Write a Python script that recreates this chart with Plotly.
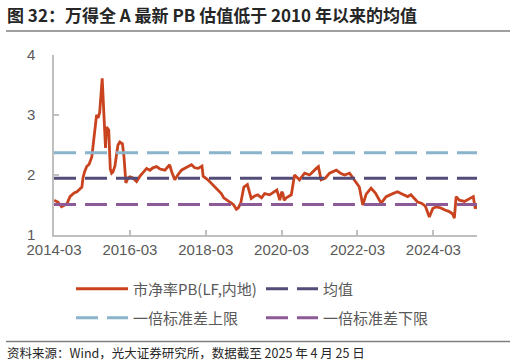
import plotly.graph_objects as go

dates = [
    "2014-03-03", "2014-03-20", "2014-04-08", "2014-05-13", "2014-06-05", "2014-07-04",
    "2014-08-02", "2014-09-10", "2014-10-08", "2014-11-07", "2014-11-25", "2014-12-05",
    "2014-12-20", "2015-01-10", "2015-02-02", "2015-02-28", "2015-03-20", "2015-04-15",
    "2015-04-30", "2015-05-15", "2015-06-08", "2015-06-20", "2015-07-04", "2015-07-10",
    "2015-07-20", "2015-08-10", "2015-08-25", "2015-09-07", "2015-09-20", "2015-10-09",
    "2015-10-25", "2015-11-07", "2015-11-25", "2015-12-20", "2016-01-04", "2016-01-22",
    "2016-02-12", "2016-03-01", "2016-03-29", "2016-05-04", "2016-06-06", "2016-07-04",
    "2016-08-09", "2016-09-10", "2016-10-08", "2016-11-13", "2016-12-15", "2017-02-01",
    "2017-03-19", "2017-04-08", "2017-05-07", "2017-06-05", "2017-07-10", "2017-08-21",
    "2017-10-15", "2017-11-15", "2017-12-18", "2018-01-24", "2018-02-04", "2018-03-22",
    "2018-04-28", "2018-05-25", "2018-06-24", "2018-07-29", "2018-08-21", "2018-09-16",
    "2018-10-09", "2018-11-04", "2018-11-25", "2018-12-21", "2019-01-08", "2019-02-01",
    "2019-03-03", "2019-04-06", "2019-05-13", "2019-06-15", "2019-07-15", "2019-08-21",
    "2019-09-19", "2019-11-06", "2019-12-25", "2020-01-15", "2020-02-12", "2020-03-01",
    "2020-03-13", "2020-03-25", "2020-04-15", "2020-06-02", "2020-07-03", "2020-08-20",
    "2020-10-08", "2020-11-25", "2021-01-29", "2021-02-18", "2021-03-16", "2021-04-27",
    "2021-06-05", "2021-08-09", "2021-09-19", "2021-10-27", "2021-12-15", "2022-02-01",
    "2022-03-19", "2022-04-21", "2022-05-24", "2022-07-10", "2022-08-21", "2022-10-15",
    "2022-12-02", "2023-02-04", "2023-03-22", "2023-04-24", "2023-06-27", "2023-07-29",
    "2023-10-01", "2023-11-07", "2023-12-15", "2024-01-22", "2024-02-24", "2024-03-29",
    "2024-05-13", "2024-06-15", "2024-08-01", "2024-09-03", "2024-09-19", "2024-10-06",
    "2024-11-06", "2024-12-25", "2025-02-27", "2025-03-20", "2025-04-08", "2025-04-25",
]
pb = [
    1.58, 1.56, 1.55, 1.47, 1.49, 1.52,
    1.64, 1.70, 1.72, 1.78, 1.80, 1.95,
    2.05, 2.14, 2.18, 2.30, 2.60, 3.00,
    2.95, 3.05, 3.61, 3.20, 2.70, 2.45,
    2.80, 2.75, 2.10, 2.03, 2.05, 2.15,
    2.35, 2.50, 2.55, 2.52, 2.30, 1.87,
    1.95, 1.97, 1.95, 1.89, 1.98, 2.03,
    2.11, 2.08, 2.12, 2.14, 2.10, 2.08,
    2.17, 2.05, 1.92, 2.00, 2.08, 2.12,
    2.17, 2.12, 2.11, 2.15, 1.98, 1.92,
    1.85, 1.80, 1.75, 1.69, 1.62, 1.58,
    1.56, 1.53, 1.50, 1.43, 1.45, 1.53,
    1.80, 1.84, 1.61, 1.65, 1.67, 1.62,
    1.69, 1.67, 1.72, 1.75, 1.58, 1.72,
    1.69, 1.58, 1.62, 1.67, 2.00, 1.92,
    2.03, 2.00, 2.11, 2.14, 1.92, 1.95,
    2.03, 2.08, 2.03, 2.00, 2.03, 1.92,
    1.80, 1.50, 1.68, 1.78, 1.70, 1.53,
    1.64, 1.69, 1.72, 1.69, 1.64, 1.67,
    1.55, 1.53, 1.48, 1.30, 1.44, 1.47,
    1.45, 1.42, 1.39, 1.35, 1.28, 1.64,
    1.58, 1.56, 1.61, 1.64, 1.44, 1.50,
]
mean_val = 1.945
upper_val = 2.37
lower_val = 1.51

x_range = ["2014-03-01", "2025-04-25"]
y_ticks = [1, 2, 3, 4]

series_names = ["市净率PB(LF,内地)", "均值", "一倍标准差上限", "一倍标准差下限"]
title_text = "图 32：万得全 A 最新 PB 估值低于 2010 年以来的均值"
source_text = "资料来源：Wind，光大证券研究所，数据截至 2025 年 4 月 25 日"

RED = "#C9431F"
NAVY = "#524C78"
LBLUE = "#89B4CB"
PURPLE = "#8B5A97"
GRAY_TXT = "#595959"
AXIS = "#BFBFBF"
DASH = "22px,9px"

fig = go.Figure()
fig.add_trace(go.Scatter(x=dates, y=pb, mode="lines", name=series_names[0],
                         line=dict(color=RED, width=2.8), legend="legend"))
fig.add_trace(go.Scatter(x=x_range, y=[mean_val, mean_val], mode="lines", name=series_names[1],
                         line=dict(color=NAVY, width=3, dash=DASH), legend="legend"))
fig.add_trace(go.Scatter(x=x_range, y=[upper_val, upper_val], mode="lines", name=series_names[2],
                         line=dict(color=LBLUE, width=3, dash=DASH), legend="legend2"))
fig.add_trace(go.Scatter(x=x_range, y=[lower_val, lower_val], mode="lines", name=series_names[3],
                         line=dict(color=PURPLE, width=3, dash=DASH), legend="legend2"))

# plot area: x 54..477, y 55..235 (px)
L, R, T, B = 54, 477, 55, 235
W, H = 516, 363
PW, PH = R - L, B - T

def px_x(p):
    return (p - L) / PW

def px_y(p):
    return (B - p) / PH

legend_common = dict(orientation="h", font=dict(family="Noto Sans CJK SC", size=15, color=GRAY_TXT),
                     itemwidth=52, entrywidth=123, entrywidthmode="pixels",
                     bgcolor="rgba(0,0,0,0)", xanchor="left", yanchor="middle",
                     itemclick=False, itemdoubleclick=False)

fig.update_layout(
    width=W, height=H,
    margin=dict(l=L, r=W - R, t=T, b=H - B),
    paper_bgcolor="white", plot_bgcolor="white",
    font=dict(family="Liberation Sans, Arial", color=GRAY_TXT),
    xaxis=dict(type="date", range=x_range, tick0="2014-03-01", dtick="M24", tickformat="%Y-%m",
               showgrid=False, zeroline=False, showline=True, linecolor=AXIS, linewidth=1.5,
               ticks="inside", ticklen=5, tickcolor=AXIS, tickwidth=1.5,
               tickfont=dict(size=15, color=GRAY_TXT, family="Liberation Sans, Arial")),
    yaxis=dict(range=[1, 4], tickvals=y_ticks, showgrid=False, zeroline=False,
               showline=True, linecolor=AXIS, linewidth=1.5,
               ticks="inside", ticklen=5, tickcolor=AXIS, tickwidth=1.5, ticklabelstandoff=14,
               tickfont=dict(size=15, color=GRAY_TXT, family="Liberation Sans, Arial")),
    legend=dict(x=px_x(71), y=px_y(289), **legend_common),
    legend2=dict(x=px_x(71), y=px_y(318), **legend_common),
    showlegend=True,
)

fig.add_annotation(xref="paper", yref="paper", x=px_x(5), y=px_y(15), xanchor="left", yanchor="middle",
                   text="<b>" + title_text + "</b>", showarrow=False,
                   font=dict(family="Noto Sans CJK SC", size=17, color="#262626"))
fig.add_annotation(xref="paper", yref="paper", x=px_x(5), y=px_y(352), xanchor="left", yanchor="middle",
                   text=source_text, showarrow=False,
                   font=dict(family="Noto Sans CJK SC", size=12.5, color="#262626"))

fig.add_shape(type="line", xref="paper", yref="paper", x0=px_x(6), x1=px_x(510), y0=px_y(31), y1=px_y(31),
              line=dict(color="#7F7F7F", width=1.5))
fig.add_shape(type="line", xref="paper", yref="paper", x0=px_x(6), x1=px_x(510), y0=px_y(341.5), y1=px_y(341.5),
              line=dict(color="#7F7F7F", width=1.5))

fig.write_html("out.html", config={"displayModeBar": False},
               post_script="document.body.style.margin='0px';document.body.style.overflow='hidden';")
